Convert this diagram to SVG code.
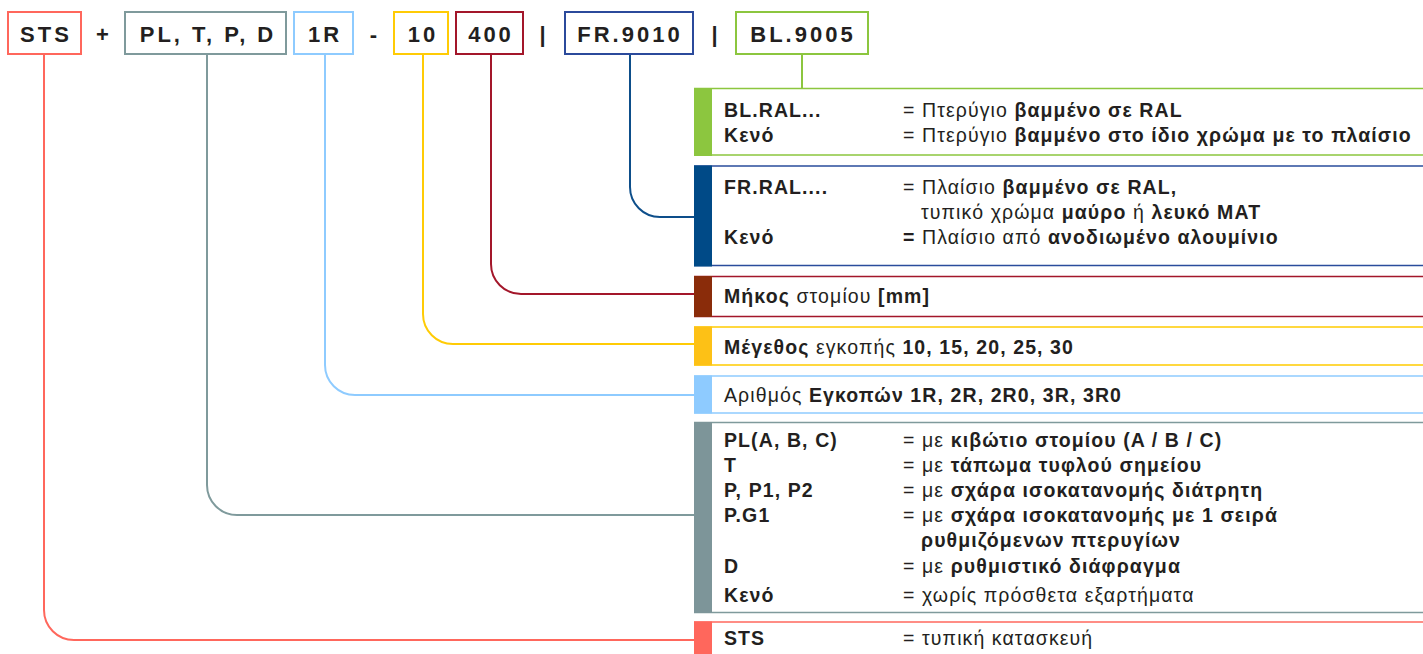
<svg xmlns="http://www.w3.org/2000/svg" width="1423" height="654" viewBox="0 0 1423 654">
<style>
.code{font-family:"Liberation Sans",Arial,sans-serif;font-weight:bold;font-size:22px;letter-spacing:3px;fill:#231f20;text-anchor:middle}
.cbox{fill:#fff;stroke-width:2}
.t{font-family:"Liberation Sans",Arial,sans-serif;font-size:19.5px;letter-spacing:1.1px;fill:#231f20}
.b{font-weight:bold}
.conn{fill:none;stroke-width:2}
</style>
<rect width="1423" height="654" fill="#fff"/>
<g id="codes">
 <g id="code-sts"><rect class="cbox" x="8" y="12" width="73" height="42" stroke="#ff675c"/><text class="code" x="46" y="42">STS</text></g>
 <text class="code" x="104" y="42">+</text>
 <g id="code-pl"><rect class="cbox" x="125" y="12" width="161" height="42" stroke="#7f9a9c"/><text class="code" x="208" y="42">PL, T, P, D</text></g>
 <g id="code-1r"><rect class="cbox" x="294" y="12" width="59" height="42" stroke="#8ecbff"/><text class="code" x="325" y="42">1R</text></g>
 <text class="code" x="375" y="42">-</text>
 <g id="code-10"><rect class="cbox" x="394" y="12" width="54" height="42" stroke="#ffcb05"/><text class="code" x="423" y="42">10</text></g>
 <g id="code-400"><rect class="cbox" x="456" y="12" width="67" height="42" stroke="#a3162a"/><text class="code" x="491" y="42">400</text></g>
 <text class="code" x="544" y="42">|</text>
 <g id="code-fr"><rect class="cbox" x="565" y="12" width="128" height="42" stroke="#2b4a9b"/><text class="code" x="630" y="42">FR.9010</text></g>
 <text class="code" x="716" y="42">|</text>
 <g id="code-bl"><rect class="cbox" x="736" y="12" width="132" height="42" stroke="#8cc63f"/><text class="code" x="803" y="42">BL.9005</text></g>
</g>
<g id="connectors">
 <path class="conn" stroke="#8cc63f" d="M802 55V88"/>
 <path class="conn" stroke="#0d4e8a" d="M630 55V187a30 30 0 0 0 30 30H694"/>
 <path class="conn" stroke="#a3162a" d="M491 55V264a30 30 0 0 0 30 30H694"/>
 <path class="conn" stroke="#ffcb05" d="M423 55V314a30 30 0 0 0 30 30H694"/>
 <path class="conn" stroke="#8ecbff" d="M325 55V365a30 30 0 0 0 30 30H694"/>
 <path class="conn" stroke="#7f9a9c" d="M207 55V485a30 30 0 0 0 30 30H694"/>
 <path class="conn" stroke="#ff675c" d="M44 55V610a30 30 0 0 0 30 30H694"/>
</g>
<g id="box-bl">
 <path d="M694 88.5H1423M694 155H1423" stroke="#8cc63f" stroke-width="1.5"/>
 <rect x="694" y="88" width="18" height="68" fill="#8cc63f"/>
 <text class="t b" x="724" y="117">BL.RAL...</text>
 <text class="t" x="903" y="117">= Πτερύγιο <tspan class="b">βαμμένο σε RAL</tspan></text>
 <text class="t b" x="724" y="142">Κενό</text>
 <text class="t" x="903" y="142">= Πτερύγιο <tspan class="b">βαμμένο στο ίδιο χρώμα με το πλαίσιο</tspan></text>
</g>
<g id="box-fr">
 <path d="M694 166H1423M694 265.5H1423" stroke="#2a4c9c" stroke-width="1.5"/>
 <rect x="694" y="165.5" width="18" height="101" fill="#004a87"/>
 <text class="t b" x="724" y="194">FR.RAL....</text>
 <text class="t" x="903" y="194">= Πλαίσιο <tspan class="b">βαμμένο σε RAL,</tspan></text>
 <text class="t" x="921" y="219">τυπικό χρώμα <tspan class="b">μαύρο</tspan> ή <tspan class="b">λευκό MAT</tspan></text>
 <text class="t b" x="724" y="244">Κενό</text>
 <text class="t" x="903" y="244"><tspan class="b">=</tspan> Πλαίσιο από <tspan class="b">ανοδιωμένο αλουμίνιο</tspan></text>
</g>
<g id="box-length">
 <path d="M694 276.5H1423M694 316.5H1423" stroke="#a3162a" stroke-width="1.5"/>
 <rect x="694" y="276" width="18" height="41" fill="#8a2c0a"/>
 <text class="t" x="724" y="303"><tspan class="b">Μήκος</tspan> στομίου <tspan class="b">[mm]</tspan></text>
</g>
<g id="box-size">
 <path d="M694 327H1423M694 365H1423" stroke="#ffcc00" stroke-width="1.5"/>
 <rect x="694" y="326.5" width="18" height="39" fill="#fdc116"/>
 <text class="t" x="724" y="354"><tspan class="b">Μέγεθος</tspan> εγκοπής <tspan class="b">10, 15, 20, 25, 30</tspan></text>
</g>
<g id="box-count">
 <path d="M694 376H1423M694 413H1423" stroke="#8ecbff" stroke-width="1.5"/>
 <rect x="694" y="375.5" width="18" height="38" fill="#8ecbff"/>
 <text class="t" x="724" y="402">Αριθμός <tspan class="b">Εγκοπών 1R, 2R, 2R0, 3R, 3R0</tspan></text>
</g>
<g id="box-acc">
 <path d="M694 422.5H1423M694 612.5H1423" stroke="#7f9a9c" stroke-width="1.5"/>
 <rect x="694" y="422" width="18" height="191" fill="#7d9599"/>
 <text class="t b" x="724" y="447">PL(A, B, C)</text>
 <text class="t" x="903" y="447">= με <tspan class="b">κιβώτιο στομίου (A / B / C)</tspan></text>
 <text class="t b" x="724" y="472">T</text>
 <text class="t" x="903" y="472">= με <tspan class="b">τάπωμα τυφλού σημείου</tspan></text>
 <text class="t b" x="724" y="497">P, P1, P2</text>
 <text class="t" x="903" y="497">= με <tspan class="b">σχάρα ισοκατανομής διάτρητη</tspan></text>
 <text class="t b" x="724" y="522">P.G1</text>
 <text class="t" x="903" y="522">= με <tspan class="b">σχάρα ισοκατανομής με 1 σειρά</tspan></text>
 <text class="t b" x="921" y="547">ρυθμιζόμενων πτερυγίων</text>
 <text class="t b" x="724" y="573">D</text>
 <text class="t" x="903" y="573">= με <tspan class="b">ρυθμιστικό διάφραγμα</tspan></text>
 <text class="t b" x="724" y="602">Κενό</text>
 <text class="t" x="903" y="602">= χωρίς πρόσθετα εξαρτήματα</text>
</g>
<g id="box-sts">
 <path d="M694 622H1423" stroke="#ff675c" stroke-width="1.5"/>
 <rect x="694" y="621.5" width="18" height="33" fill="#ff675c"/>
 <text class="t b" x="724" y="645">STS</text>
 <text class="t" x="903" y="645">= τυπική κατασκευή</text>
</g>
</svg>
